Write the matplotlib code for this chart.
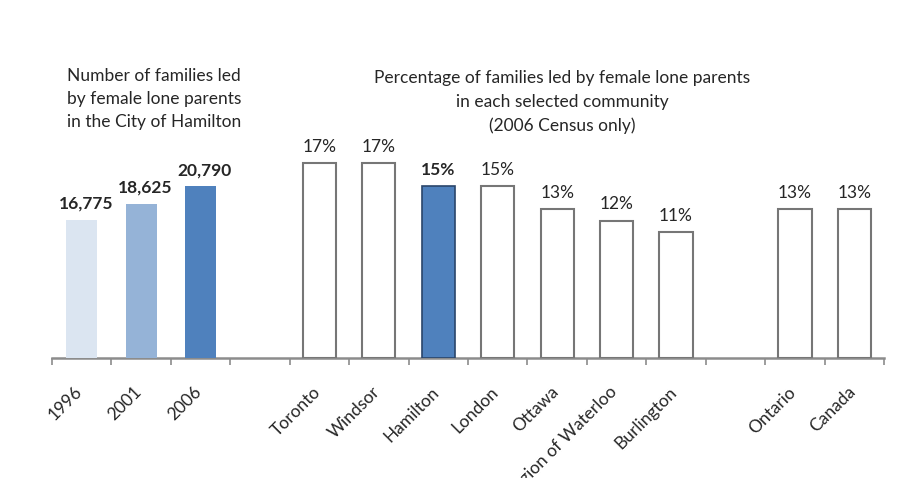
import numpy as np
import matplotlib
matplotlib.use('Agg')
import matplotlib.pyplot as plt
from matplotlib.transforms import ScaledTranslation

plt.rcParams['font.family'] = ['Lato', 'DejaVu Sans']

# Data
categories = ['1996', '2001', '2006', '', 'Toronto', 'Windsor', 'Hamilton', 'London',
              'Ottawa', 'Region of Waterloo', 'Burlington', '', 'Ontario', 'Canada']
count_labels = ['1996', '2001', '2006']
count_values = [16775, 18625, 20790]
count_colors = ['#dbe5f1', '#95b3d7', '#4f81bd']
pct_labels = ['Toronto', 'Windsor', 'Hamilton', 'London', 'Ottawa',
              'Region of Waterloo', 'Burlington', 'Ontario', 'Canada']
pct_values = [17, 17, 15, 15, 13, 12, 11, 13, 13]

fig = plt.figure(figsize=(9.18, 4.78), dpi=100)
ax = fig.add_axes([0.0566, 0.251, 0.9064, 0.479])
ax2 = ax.twinx()

pos = {c: i for i, c in enumerate(categories) if c}
txt_color = '#262626'
fs = 12.5

# percentage bars (left axis)
for lab, v in zip(pct_labels, pct_values):
    x = pos[lab]
    if lab == 'Hamilton':
        ax.bar(x, v, width=0.56, color='#4f81bd', edgecolor='#2a466b', linewidth=1.2, zorder=3)
        weight = 'bold'
    else:
        ax.bar(x, v, width=0.56, color='white', edgecolor='#767676', linewidth=1.5, zorder=3)
        weight = 'normal'
    ax.annotate(f'{v}%', xy=(x, v), xytext=(0, 6), textcoords='offset points',
                ha='center', va='bottom', fontsize=fs, fontweight=weight, color=txt_color)

# counts (secondary scale)
for lab, v, c in zip(count_labels, count_values, count_colors):
    x = pos[lab]
    ax2.bar(x, v, width=0.52, color=c, zorder=3)
    ax2.annotate(f'{v:,}', xy=(x, v), xytext=(3, 6), textcoords='offset points',
                 ha='center', va='bottom', fontsize=fs, fontweight='bold', color=txt_color)

ax.set_xlim(-0.5, len(categories) - 0.5)
ax.set_ylim(0, 20)
ax2.set_ylim(0, 20 * 1387)

for a in (ax, ax2):
    for s in ['top', 'right', 'left']:
        a.spines[s].set_visible(False)
    a.set_yticks([])
ax2.spines['bottom'].set_visible(False)
ax.spines['bottom'].set_color('#8c8c8c')
ax.spines['bottom'].set_linewidth(1.8)

# tick marks between categories, labels at category centres
ax.set_xticks(np.arange(-0.5, len(categories)), labels=[''] * (len(categories) + 1))
ax.tick_params(axis='x', which='major', length=5, width=1.2, color='#8c8c8c', direction='out')
ax.set_xticks(np.arange(len(categories)), labels=categories, minor=True)
ax.tick_params(axis='x', which='minor', length=0, pad=18.5, labelsize=fs, labelcolor=txt_color)
for t in ax.get_xticklabels(minor=True):
    t.set_rotation(45)
    t.set_ha('right')
    t.set_transform(t.get_transform() + ScaledTranslation(4 / 100, 0, fig.dpi_scale_trans))

fig.text(154 / 918, 1 - 99 / 478, 'Number of families led\nby female lone parents\nin the City of Hamilton',
         ha='center', va='center', fontsize=fs, color=txt_color, linespacing=1.55)
fig.text(562 / 918, 1 - 102 / 478, 'Percentage of families led by female lone parents\n'
         'in each selected community\n(2006 Census only)',
         ha='center', va='center', fontsize=fs, color=txt_color, linespacing=1.55)

fig.savefig('out.png', dpi=100)
